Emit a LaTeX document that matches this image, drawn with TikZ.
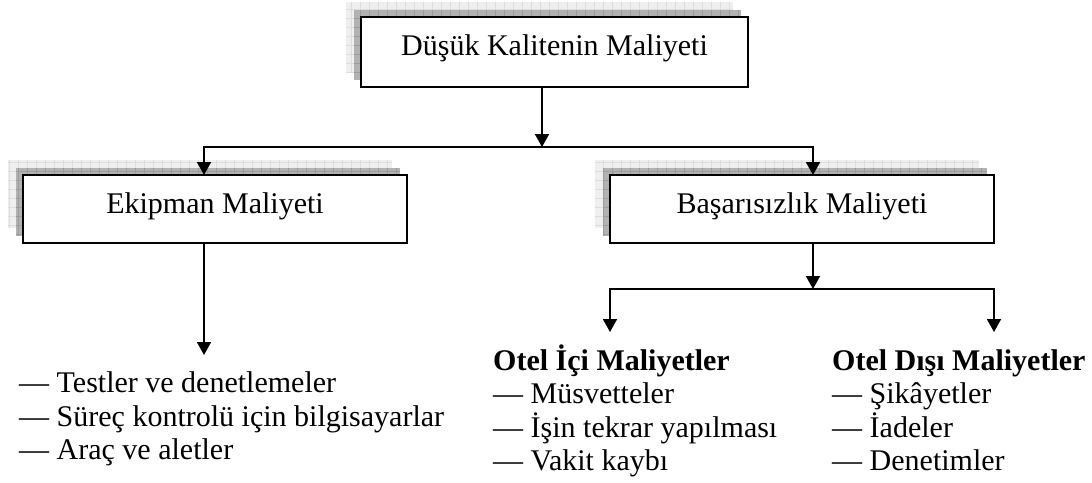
\documentclass[tikz,border=0pt]{standalone}
\usepackage{fontspec}
\setmainfont{Liberation Serif}
\usetikzlibrary{arrows.meta,backgrounds}

\definecolor{shadelight}{HTML}{EFEFEF}
\definecolor{shadelightgrid}{HTML}{DDDDDD}
\definecolor{shadedark}{HTML}{B2B2B2}
\definecolor{shadedarkgrid}{HTML}{9C9C9C}

\newcommand\bodysize{\fontsize{30}{33}\selectfont}

\tikzset{
  costbox/.style={draw=black, line width=1.8pt, fill=white, outer sep=0pt,
    inner xsep=0pt, inner ysep=0pt, anchor=north west,
    text height=38pt, text depth=30pt},
  conn/.style={line width=1.8pt},
  onetip/.style={conn, -{Triangle[length=13pt,width=14pt]}},
  tipped/.style={conn, line join=miter,
    {Triangle[length=13pt,width=14pt]}-{Triangle[length=13pt,width=14pt]}},
  item/.style={anchor=base west, inner sep=0pt},
  head/.style={item, font=\bodysize\bfseries},
}

% two-tone patterned shadow cast up and to the left of a box
\newcommand\castshadow[1]{%
  \begin{scope}[on background layer]
    \fill[shadelight] ([shift={(-15,-15)}]#1.north west) rectangle ([shift={(-15,-15)}]#1.south east);
    \draw[shadelightgrid, line width=0.7pt, step=9pt]
      ([shift={(-15,-15)}]#1.north west) grid ([shift={(-15,-15)}]#1.south east);
    \fill[shadedark] ([shift={(-7,-7)}]#1.north west) rectangle ([shift={(-7,-7)}]#1.south east);
    \draw[shadedarkgrid, line width=0.7pt, step=9pt]
      ([shift={(-7,-7)}]#1.north west) grid ([shift={(-7,-7)}]#1.south east);
  \end{scope}}

\begin{document}
\begin{tikzpicture}[x=1pt, y=-1pt, font=\bodysize]
  \useasboundingbox (0,0) rectangle (1092,482);

  % boxes
  \node[costbox, minimum width=387pt, text depth=32pt] (top) at (361,17) {Düşük Kalitenin Maliyeti};
  \node[costbox, minimum width=384pt] (ekip) at (23,175) {Ekipman Maliyeti};
  \node[costbox, minimum width=384pt] (bas) at (610,175) {Başarısızlık Maliyeti};
  \castshadow{top}
  \castshadow{ekip}
  \castshadow{bas}

  % equipment cost items
  \node[item] (ek1) at (19,392) {— Testler ve denetlemeler};
  \node[item] (ek2) at (19,426) {— Süreç kontrolü için bilgisayarlar};
  \node[item] (ek3) at (19,459) {— Araç ve aletler};

  % internal failure costs
  \node[head] (ic) at (493,370) {Otel İçi Maliyetler};
  \node[item] (ic1) at (493,403) {— Müsvetteler};
  \node[item] (ic2) at (493,437) {— İşin tekrar yapılması};
  \node[item] (ic3) at (493,470) {— Vakit kaybı};

  % external failure costs
  \node[head] (dis) at (832,370) {Otel Dışı Maliyetler};
  \node[item] (dis1) at (832,403) {— Şikâyetler};
  \node[item] (dis2) at (832,437) {— İadeler};
  \node[item] (dis3) at (832,470) {— Denetimler};

  % branch points
  \coordinate (splitA)  at (542,147);
  \coordinate (splitAL) at (204,147);
  \coordinate (splitAR) at (813,147);
  \coordinate (ekEnd)   at (204,355);
  \coordinate (splitB)  at (813,289);
  \coordinate (splitBL) at (610,289);
  \coordinate (splitBR) at (994,289);
  \coordinate (icEnd)   at (610,332);
  \coordinate (disEnd)  at (994,332);

  % connectors
  \draw[onetip] (top.south -| splitA) -- (splitA);
  \draw[tipped] (ekip.north -| splitAL) -- (splitAL) -- (splitAR) -- (bas.north -| splitAR);
  \draw[onetip] (ekip.south -| ekEnd) -- (ekEnd);
  \draw[onetip] (bas.south -| splitB) -- (splitB);
  \draw[tipped] (icEnd) -- (splitBL) -- (splitBR) -- (disEnd);
\end{tikzpicture}
\end{document}
